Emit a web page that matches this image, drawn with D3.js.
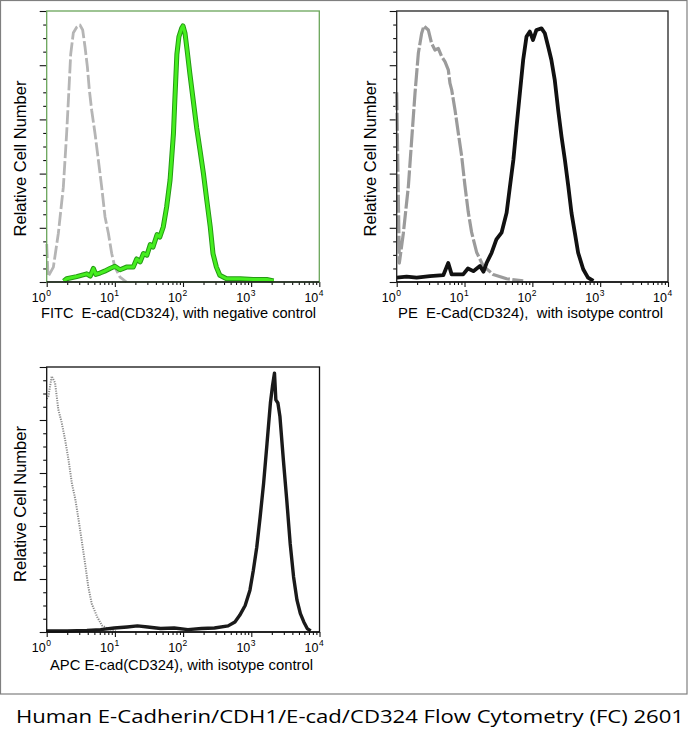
<!DOCTYPE html>
<html>
<head>
<meta charset="utf-8">
<script src="https://cdn.jsdelivr.net/npm/d3@7"></script>
<style>
  body { margin: 0; background: #fff; }
  text { font-family: "Liberation Sans", Arial, sans-serif; fill: #000; }
</style>
</head>
<body>
<svg id="chart" width="688" height="740"></svg>
<script>
// intensities are stored as log10 values (0 = 10^0 ... 4 = 10^4), counts as % of axis height

// FITC panel
const fitcCtrlLg    = [0, 0.02, 0.098, 0.171, 0.244, 0.293, 0.318, 0.352, 0.391, 0.44, 0.489, 0.528, 0.562, 0.597, 0.626, 0.66, 0.709, 0.758, 0.807, 0.856, 0.905, 0.954, 1.0, 1.076, 1.17];
const fitcCtrlCount = [14, 2, 5.5, 18, 35, 55, 67, 84, 92, 94, 94.8, 93, 86.8, 79.4, 70.8, 63.4, 54.8, 45, 35, 24, 18, 10.5, 5.5, 1.8, 0];
const fitcPosLg     = [0.25, 0.293, 0.44, 0.587, 0.64, 0.685, 0.72, 0.782, 0.85, 0.929, 1.0, 1.076, 1.17, 1.27, 1.32, 1.37, 1.42, 1.47, 1.52, 1.56, 1.62, 1.66, 1.71, 1.76, 1.81, 1.86, 1.88, 1.91, 1.94, 1.98, 2.0, 2.03, 2.06, 2.10, 2.15, 2.2, 2.25, 2.30, 2.35, 2.4, 2.44, 2.49, 2.54, 2.64, 2.84, 3.03, 3.23, 3.33];
const fitcPosCount  = [0.3, 1.2, 2, 3, 2.2, 5, 2.8, 3.3, 4, 5, 5.8, 4.5, 5.5, 5.5, 8.5, 7.4, 10.5, 9.9, 13.8, 12.9, 17.5, 16.6, 20.3, 27.7, 37.6, 54.8, 67, 84, 90.5, 93.6, 94.5, 91.7, 85.6, 77, 67, 57, 48.6, 40, 30, 20.3, 10.5, 5.5, 2.5, 1.2, 1.2, 0.9, 0.9, 0.4];

// PE panel
const peCtrlLg    = [0, 0.039, 0.098, 0.172, 0.221, 0.27, 0.319, 0.368, 0.402, 0.466, 0.515, 0.564, 0.613, 0.663, 0.712, 0.761, 0.785, 0.81, 0.859, 0.908, 0.957, 1.006, 1.055, 1.104, 1.178, 1.276, 1.423, 1.62, 1.865];
const peCtrlCount = [70, 7, 18, 35.3, 52.5, 69.7, 84.4, 91.8, 94.5, 93, 88, 85.6, 86.2, 83.2, 81.3, 78.3, 73.4, 71, 63.6, 55, 46.6, 35.6, 25.8, 18.4, 11, 5.9, 2.8, 1.2, 0.4];
const pePosLg     = [0, 0.147, 0.294, 0.49, 0.687, 0.76, 0.81, 0.98, 1.05, 1.13, 1.227, 1.28, 1.325, 1.4, 1.47, 1.546, 1.62, 1.67, 1.72, 1.767, 1.816, 1.865, 1.914, 1.963, 2.01, 2.06, 2.135, 2.184, 2.233, 2.28, 2.33, 2.38, 2.43, 2.48, 2.53, 2.577, 2.626, 2.675, 2.75, 2.82, 2.9];
const pePosCount  = [1.6, 2, 1.6, 2.2, 2.5, 7, 2.8, 2.8, 5, 4, 5.9, 3.8, 7, 10.8, 15.7, 18.2, 25.5, 35.3, 45, 57.4, 69.7, 82, 90.6, 92.4, 89.3, 93, 93.6, 91.8, 86.9, 82, 74.6, 63.6, 53.7, 45, 35.3, 25.5, 18.2, 10.8, 4.7, 1.6, 0.4];

// APC panel
const apcCtrlLg    = [0, 0.025, 0.074, 0.123, 0.17, 0.22, 0.27, 0.32, 0.37, 0.42, 0.47, 0.52, 0.57, 0.61, 0.66, 0.74, 0.81, 0.89, 1.01];
const apcCtrlCount = [88, 89, 96.5, 94, 84, 79, 72.5, 65, 56, 50, 42, 33.4, 24.6, 17, 10.7, 5.7, 2.5, 1.3, 0.4];
const apcPosLg     = [0, 0.3, 0.59, 0.79, 0.99, 1.18, 1.33, 1.48, 1.67, 1.87, 2.07, 2.27, 2.46, 2.66, 2.76, 2.83, 2.91, 2.98, 3.03, 3.08, 3.13, 3.18, 3.23, 3.28, 3.31, 3.34, 3.36, 3.39, 3.42, 3.47, 3.52, 3.57, 3.62, 3.67, 3.72, 3.77, 3.82, 3.87];
const apcPosCount  = [0.4, 0.4, 0.6, 0.9, 1.5, 1.9, 2.3, 1.9, 1.3, 1.5, 0.9, 1.3, 1.5, 2.3, 3.8, 6.3, 10, 15.8, 23.3, 32, 43.5, 56, 71, 86.4, 92.7, 97.7, 87.6, 86.4, 81.3, 65, 49.8, 33.4, 20.8, 12, 6.9, 3.8, 1.3, 0.4];

const decades = [0, 1, 2, 3, 4];
const yMajorTicks = [0, 20, 40, 60, 80, 100];
const yTitle = "Relative Cell Number";
const xTitles = [
  "FITC\u00a0\u00a0E-cad(CD324), with negative control",
  "PE\u00a0\u00a0E-Cad(CD324),\u00a0\u00a0with isotype control",
  "APC E-cad(CD324), with isotype control"
];
const caption = "Human E-Cadherin/CDH1/E-cad/CD324 Flow Cytometry (FC) 2601";

const svg = d3.select("#chart");
svg.append("rect").attr("width", 688).attr("height", 740).attr("fill", "#fff");

// outer frame of the figure area
svg.append("rect")
  .attr("x", 0.5).attr("y", 0.5)
  .attr("width", 686.5).attr("height", 693.5)
  .attr("fill", "none").attr("stroke", "#7f7f7f").attr("stroke-width", 1.2);

const panels = [
  { left: 46.7, top: 11, right: 319.3, bottom: 282, frame: "#6aa55a", title: xTitles[0],
    titleX: 41, titleY: 318, titleW: 275, titleSize: 14, yTitleX: 25.5, yTitleY: 158.5,
    series: [
      { lg: fitcCtrlLg, n: fitcCtrlCount, strokes: [{ c: "#b5b5b5", w: 2.8, dash: "14,3" }] },
      { lg: fitcPosLg, n: fitcPosCount, strokes: [{ c: "#259a14", w: 5 }, { c: "#45ee1f", w: 3 }] }
    ] },
  { left: 396.7, top: 11, right: 668, bottom: 282, frame: "#222", title: xTitles[1],
    titleX: 398, titleY: 318, titleW: 265, titleSize: 14, yTitleX: 375.5, yTitleY: 158.5,
    series: [
      { lg: peCtrlLg, n: peCtrlCount, strokes: [{ c: "#9b9b9b", w: 3.2, dash: "18,2.5" }] },
      { lg: pePosLg, n: pePosCount, strokes: [{ c: "#111", w: 3.8 }] }
    ] },
  { left: 46.7, top: 367, right: 319.5, bottom: 632, frame: "#111", title: xTitles[2],
    titleX: 50, titleY: 670, titleW: 263, titleSize: 15, yTitleX: 25.5, yTitleY: 504,
    series: [
      { lg: apcCtrlLg, n: apcCtrlCount, strokes: [{ c: "#8a8a8a", w: 2, dash: "1.2,1.2" }] },
      { lg: apcPosLg, n: apcPosCount, strokes: [{ c: "#1a1a1a", w: 3.4 }] }
    ] }
];

panels.forEach(p => {
  const g = svg.append("g");
  const x = d3.scaleLog().domain([1, 1e4]).range([p.left, p.right]);
  const y = d3.scaleLinear().domain([0, 100]).range([p.bottom, p.top]);

  const minorX = [];
  decades.slice(0, -1).forEach(e => d3.range(2, 10).forEach(k => minorX.push(k * Math.pow(10, e))));
  const majorX = decades.map(e => Math.pow(10, e));

  // x ticks (outward, below the axis)
  g.append("g").attr("transform", `translate(0,${p.bottom})`)
    .call(d3.axisBottom(x).tickValues(minorX).tickSize(3).tickFormat(""))
    .call(a => a.select(".domain").remove());
  g.append("g").attr("transform", `translate(0,${p.bottom})`)
    .call(d3.axisBottom(x).tickValues(majorX).tickSize(5).tickFormat(""))
    .call(a => a.select(".domain").remove());

  // y ticks (outward, left)
  const minorY = d3.range(0, 101, 5).filter(v => v % 20 !== 0);
  g.append("g").attr("transform", `translate(${p.left},0)`)
    .call(d3.axisLeft(y).tickValues(minorY).tickSize(3.5).tickFormat(""))
    .call(a => a.select(".domain").remove());
  g.append("g").attr("transform", `translate(${p.left},0)`)
    .call(d3.axisLeft(y).tickValues(yMajorTicks).tickSize(7).tickFormat(""))
    .call(a => a.select(".domain").remove());
  g.selectAll(".tick line").attr("stroke", "#111").attr("stroke-width", 1.1);

  // curves
  const line = d3.line().x(d => x(Math.pow(10, d[0]))).y(d => y(d[1]));
  p.series.forEach(s => {
    const pts = d3.zip(s.lg, s.n);
    s.strokes.forEach(st => {
      g.append("path").datum(pts)
        .attr("d", line)
        .attr("fill", "none")
        .attr("stroke", st.c)
        .attr("stroke-width", st.w)
        .attr("stroke-linejoin", "round")
        .attr("stroke-dasharray", st.dash || null);
    });
  });

  // frame
  g.append("rect")
    .attr("x", p.left).attr("y", p.top)
    .attr("width", p.right - p.left).attr("height", p.bottom - p.top)
    .attr("fill", "none").attr("stroke", p.frame).attr("stroke-width", 1.3);
  g.append("line")
    .attr("x1", p.left).attr("x2", p.right)
    .attr("y1", p.bottom).attr("y2", p.bottom)
    .attr("stroke", "#111").attr("stroke-width", 1.4);

  // decade labels 10^n
  decades.forEach(e => {
    const tx = x(Math.pow(10, e));
    g.append("text").attr("x", tx - 1).attr("y", p.bottom + 20)
      .attr("text-anchor", "end").attr("font-size", 12.5).text("10");
    g.append("text").attr("x", tx - 0.5).attr("y", p.bottom + 14)
      .attr("font-size", 8.5).text(e);
  });

  // axis titles
  g.append("text")
    .attr("x", p.titleX).attr("y", p.titleY)
    .attr("font-size", p.titleSize)
    .attr("textLength", p.titleW).attr("lengthAdjust", "spacingAndGlyphs")
    .text(p.title);
  g.append("text")
    .attr("transform", `translate(${p.yTitleX},${p.yTitleY}) rotate(-90)`)
    .attr("text-anchor", "middle")
    .attr("font-size", 16.5)
    .text(yTitle);
});

svg.append("text")
  .attr("x", 16).attr("y", 723)
  .style("font-family", "'Open Sans', 'Noto Sans', sans-serif")
  .attr("font-size", 19)
  .attr("textLength", 668).attr("lengthAdjust", "spacingAndGlyphs")
  .text(caption);
</script>
</body>
</html>
